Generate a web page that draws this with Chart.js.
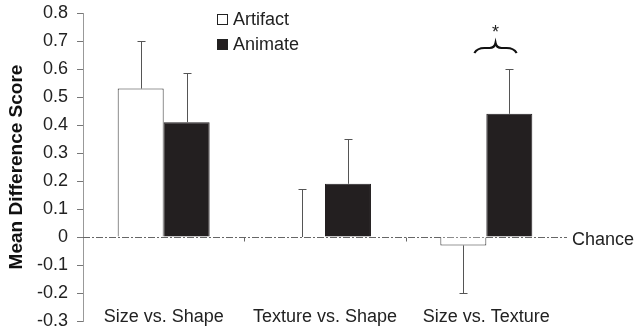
<!DOCTYPE html>
<html>
<head>
<meta charset="utf-8">
<script src="https://cdn.jsdelivr.net/npm/chart.js@4.4.1/dist/chart.umd.min.js"></script>
<style>
  html, body { margin: 0; padding: 0; background: #fff; }
  #wrap { position: relative; width: 634px; height: 333px; }
</style>
</head>
<body>
<div id="wrap"><canvas id="chart"></canvas></div>
<script>
const categories = ["Size vs. Shape", "Texture vs. Shape", "Size vs. Texture"];
const artifactValues = [0.53, 0.0, -0.03];
const animateValues = [0.41, 0.19, 0.44];
const artifactErrors = [0.17, 0.17, 0.17];
const animateErrors = [0.175, 0.16, 0.16];
const yMin = -0.3;
const yMax = 0.8;
const yStep = 0.1;
const chanceLabel = "Chance";
const starCategory = 2; // the * over Size vs. Texture

const FONT = "'Liberation Sans', Arial, sans-serif";

// one-sided error bars (up for positive, down for negative)
const errorBars = {
  id: "errorBars",
  afterDatasetsDraw(chart) {
    const ctx = chart.ctx;
    const y = chart.scales.y;
    ctx.save();
    ctx.strokeStyle = "#555";
    ctx.lineWidth = 1;
    chart.data.datasets.forEach((ds, i) => {
      const meta = chart.getDatasetMeta(i);
      meta.data.forEach((bar, j) => {
        const v = ds.data[j];
        const e = ds.errors[j];
        const end = y.getPixelForValue(v >= 0 ? v + e : v - e);
        const x = Math.round(bar.x) + 0.5;
        ctx.beginPath();
        ctx.moveTo(x, bar.y);
        ctx.lineTo(x, end);
        ctx.moveTo(x - 4, Math.round(end) + 0.5);
        ctx.lineTo(x + 4, Math.round(end) + 0.5);
        ctx.stroke();
      });
    });
    ctx.restore();
  },
};

// zero ("chance") line, category labels, legend, brace + star
const extras = {
  id: "extras",
  beforeDatasetsDraw(chart) {
    const ctx = chart.ctx;
    const xs = chart.scales.x;
    const y0 = Math.round(chart.scales.y.getPixelForValue(0)) + 0.5;
    const area = chart.chartArea;
    ctx.save();
    ctx.strokeStyle = "#666";
    ctx.lineWidth = 1;
    ctx.setLineDash([7, 2, 2, 2]);
    ctx.beginPath();
    ctx.moveTo(area.left, y0);
    ctx.lineTo(area.right, y0);
    ctx.stroke();
    ctx.setLineDash([]);
    for (let i = 0; i < categories.length - 1; i++) {
      const xb = Math.round((xs.getPixelForValue(i) + xs.getPixelForValue(i + 1)) / 2) + 0.5;
      ctx.beginPath();
      ctx.moveTo(xb, y0);
      ctx.lineTo(xb, y0 + 4);
      ctx.stroke();
    }
    ctx.restore();
  },
  afterDraw(chart) {
    const ctx = chart.ctx;
    const xs = chart.scales.x;
    const ys = chart.scales.y;
    const area = chart.chartArea;
    ctx.save();
    ctx.fillStyle = "#222";
    ctx.font = "18px " + FONT;
    ctx.textBaseline = "middle";

    // category labels sit inside the plot, at the bottom
    ctx.textAlign = "center";
    categories.forEach((c, i) => {
      ctx.fillText(c, xs.getPixelForValue(i), area.bottom - 4);
    });

    // Chance label
    ctx.textAlign = "left";
    ctx.fillText(chanceLabel, area.right + 5, ys.getPixelForValue(0) + 3);

    // legend
    const lx = 217, ly = [14, 39];
    chart.data.datasets.forEach((ds, i) => {
      ctx.fillStyle = ds.backgroundColor;
      ctx.fillRect(lx, ly[i], 11, 11);
      ctx.strokeStyle = "#222";
      ctx.lineWidth = 1;
      ctx.strokeRect(lx + 0.5, ly[i] + 0.5, 10, 10);
      ctx.fillStyle = "#222";
      ctx.fillText(ds.label, lx + 16, ly[i] + 6);
    });

    // brace and star
    const a = chart.getDatasetMeta(0).data[starCategory];
    const b = chart.getDatasetMeta(1).data[starCategory];
    const bw = b.width;
    const cx = (a.x + b.x) / 2 + bw * 0.2;
    const hw = bw * 0.46;
    const tops = chart.data.datasets.map((ds) => {
      const v = ds.data[starCategory];
      return ys.getPixelForValue(v + ds.errors[starCategory]);
    });
    const bottom = Math.min(...tops) - 16;
    const top = bottom - 10;
    ctx.strokeStyle = "#111";
    ctx.lineWidth = 2.2;
    ctx.beginPath();
    ctx.moveTo(cx - hw, bottom);
    ctx.quadraticCurveTo(cx - hw + 3, top + 5, cx - hw + 10, top + 5);
    ctx.lineTo(cx - 6, top + 5);
    ctx.quadraticCurveTo(cx - 1, top + 5, cx, top);
    ctx.quadraticCurveTo(cx + 1, top + 5, cx + 6, top + 5);
    ctx.lineTo(cx + hw - 10, top + 5);
    ctx.quadraticCurveTo(cx + hw - 3, top + 5, cx + hw, bottom);
    ctx.stroke();
    ctx.fillStyle = "#222";
    ctx.textAlign = "center";
    ctx.font = "18px " + FONT;
    ctx.fillText("*", cx, top - 10);
    ctx.restore();
  },
};

new Chart(document.getElementById("chart"), {
  type: "bar",
  data: {
    labels: categories,
    datasets: [
      {
        label: "Artifact",
        data: artifactValues,
        errors: artifactErrors,
        backgroundColor: "#ffffff",
        borderColor: "#333",
        borderWidth: 1,
      },
      {
        label: "Animate",
        data: animateValues,
        errors: animateErrors,
        backgroundColor: "#231f20",
        borderColor: "#231f20",
        borderWidth: 1,
      },
    ],
  },
  options: {
    responsive: true,
    maintainAspectRatio: false,
    animation: false,
    layout: { padding: { top: 13, right: 67, bottom: 12, left: 0 } },
    datasets: { bar: { barPercentage: 1, categoryPercentage: 0.57 } },
    plugins: { legend: { display: false }, tooltip: { enabled: false } },
    scales: {
      x: { display: false },
      y: {
        min: yMin,
        max: yMax,
        afterFit(scale) {
          scale.width = 83;
          scale.paddingTop = 0;
          scale.paddingBottom = 0;
        },
        border: { display: true, color: "#999", dash: [2, 2], width: 1 },
        grid: { drawOnChartArea: false, drawTicks: true, tickLength: 6, color: "#777" },
        ticks: {
          stepSize: yStep,
          color: "#222",
          padding: 9,
          font: { family: FONT, size: 18 },
          callback: (v) => String(parseFloat(v.toFixed(1))),
        },
        title: {
          display: true,
          text: "Mean Difference Score",
          color: "#111",
          padding: 5,
          font: { family: FONT, size: 19, weight: "bold" },
        },
      },
    },
  },
  plugins: [errorBars, extras],
});
</script>
</body>
</html>
